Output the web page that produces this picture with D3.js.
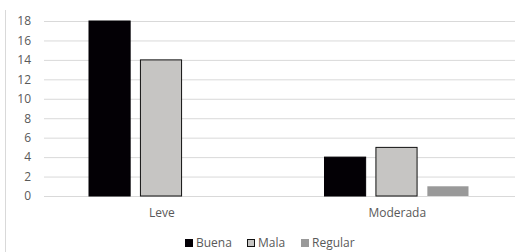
<!DOCTYPE html>
<html>
<head>
<meta charset="utf-8">
<script src="https://cdn.jsdelivr.net/npm/d3@7"></script>
<style>
  body { margin: 0; background: #fff; }
  text { font-family: "Open Sans", sans-serif; fill: #595959; }
</style>
</head>
<body>
<div class="chart"></div>
<script>
var categories = ["Leve", "Moderada"];
var series = ["Buena", "Mala", "Regular"];
var buena = [18, 4];
var mala = [14, 5];
var regular = [0, 1];
var yTicks = [0, 2, 4, 6, 8, 10, 12, 14, 16, 18];

var colors = {Buena: "#030005", Mala: "#c6c5c3", Regular: "#999999"};
var strokes = {Buena: "#030005", Mala: "#111111", Regular: "none"};

var width = 531, height = 252,
    plot = {left: 44, right: 515, top: 21, bottom: 196};

var svg = d3.select(".chart")
  .append("svg")
    .attr("width", width)
    .attr("height", height);

// left border line of the chart area
svg.append("line")
    .attr("x1", 5.5).attr("x2", 5.5)
    .attr("y1", 10).attr("y2", height)
    .attr("stroke", "#d9d9d9");

var data = categories.map(function(c, i) {
    return {cat: c, values: [
        {key: "Buena", value: buena[i]},
        {key: "Mala", value: mala[i]},
        {key: "Regular", value: regular[i]}
    ]};
});

var x0 = d3.scaleBand()
    .domain(categories)
    .range([plot.left, plot.right]);

var x1 = d3.scaleBand()
    .domain(series)
    .range([45, 189])
    .paddingInner(0.2);

var y = d3.scaleLinear()
    .domain([0, 18])
    .range([plot.bottom, plot.top]);

// gridlines
var gridlines = d3.axisLeft()
    .scale(y)
    .tickValues(yTicks)
    .tickFormat("")
    .tickSize(-(plot.right - plot.left));

svg.append("g")
    .attr("class", "grid")
    .attr("transform", "translate(" + plot.left + ",0)")
    .call(gridlines)
    .call(function(g) {
        g.select(".domain").remove();
        g.selectAll("line").attr("stroke", "#d9d9d9");
    });

var yaxis = d3.axisLeft()
    .scale(y)
    .tickValues(yTicks)
    .tickSize(0)
    .tickPadding(0);

svg.append("g")
    .attr("transform", "translate(31,0)")
    .call(yaxis)
    .call(function(g) {
        g.select(".domain").remove();
        g.selectAll("text")
            .attr("font-size", "12px")
            .attr("fill", "#595959")
            .style("font-family", "'Open Sans', sans-serif");
    });

var groups = svg.selectAll(".group")
    .data(data)
    .enter()
    .append("g")
    .attr("class", "group")
    .attr("transform", function(d) { return "translate(" + x0(d.cat) + ",0)"; });

groups.selectAll("rect")
    .data(function(d) { return d.values.filter(function(v) { return v.value > 0; }); })
    .enter()
    .append("rect")
    .attr("x", function(d) { return x1(d.key); })
    .attr("y", function(d) { return y(d.value); })
    .attr("width", x1.bandwidth())
    .attr("height", function(d) { return y(0) - y(d.value); })
    .attr("fill", function(d) { return colors[d.key]; })
    .attr("stroke", function(d) { return strokes[d.key]; })
    .attr("stroke-width", 1);

var xaxis = d3.axisBottom()
    .scale(x0)
    .tickSize(0)
    .tickPadding(12);

svg.append("g")
    .attr("transform", "translate(0," + plot.bottom + ")")
    .call(xaxis)
    .call(function(g) {
        g.select(".domain").remove();
        g.selectAll("text")
            .attr("font-size", "12px")
            .attr("fill", "#595959")
            .style("font-family", "'Open Sans', sans-serif");
    });

// legend
var legendX = [185, 247, 301];
var legend = svg.append("g");

series.forEach(function(s, i) {
    legend.append("rect")
        .attr("x", legendX[i] + 0.5)
        .attr("y", 239.5)
        .attr("width", 7)
        .attr("height", 7)
        .attr("fill", colors[s])
        .attr("stroke", s == "Mala" ? "#111" : colors[s]);
    legend.append("text")
        .attr("x", legendX[i] + 11)
        .attr("y", 247)
        .attr("font-size", "12px")
        .text(s);
});
</script>
</body>
</html>
